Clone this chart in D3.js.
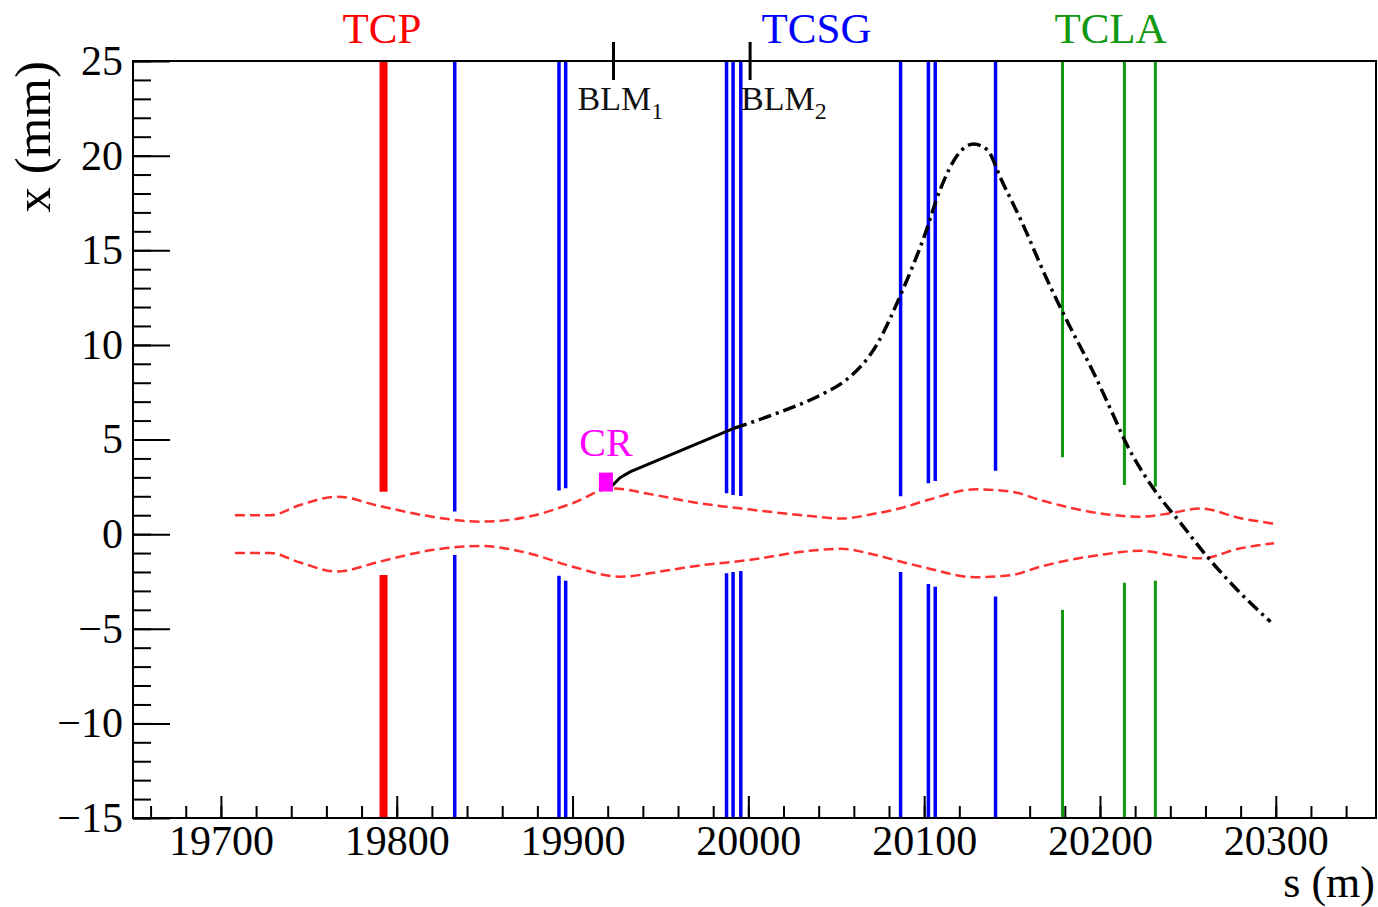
<!DOCTYPE html>
<html lang="en">
<head>
<meta charset="utf-8">
<title>Crystal channeled halo trajectory</title>
<script src="https://d3js.org/d3.v7.min.js"></script>
<style>
  body { margin: 0; background: #fff; }
  svg { display: block; font-family: "Liberation Serif", "Times New Roman", serif; }
  .tick text { fill: #000; }
</style>
</head>
<body>
<script>
const W = 1378, H = 907;
const margin = {left: 133, right: 2, top: 61, bottom: 89};

// collimators: position s (m) and jaw half gaps (mm)
const tcpS = [19792.5];
const tcpUp = [2.24];
const tcpDown = [-2.16];
const tcsgS = [19833, 19892.3, 19896.1, 19987.6, 19991.3, 19995.7, 20086.6, 20102.4, 20106.3, 20140.6];
const tcsgUp = [1.19, 2.3, 2.42, 2.16, 2.07, 2.01, 2.0, 2.69, 2.81, 3.35];
const tcsgDown = [-1.1, -2.2, -2.46, -2.07, -2.0, -1.95, -2.0, -2.64, -2.78, -3.3];
const tclaS = [20178.7, 20213.9, 20231.5];
const tclaUp = [4.06, 2.6, 2.5];
const tclaDown = [-4.0, -2.57, -2.46];

const groupNames = ["TCP", "TCSG", "TCLA"];
const groupLabelS = [19791.6, 20038.8, 20206];

const blmNames = ["1", "2"];
const blmS = [19923.3, 20001];

// beam envelope (red dashed)
const envS = [19708, 19728, 19745, 19766, 19790, 19820, 19848, 19875, 19900, 19922, 19945, 19967, 20000, 20035, 20053, 20070, 20087, 20102, 20129, 20150, 20166, 20200, 20223, 20240, 20257, 20280, 20299];
const envUp = [1.0, 1.0, 1.54, 1.98, 1.49, 0.92, 0.66, 0.92, 1.63, 2.42, 2.1, 1.71, 1.31, 0.96, 0.82, 1.05, 1.38, 1.8, 2.37, 2.24, 1.8, 1.1, 0.92, 1.1, 1.36, 0.84, 0.55];
const envLowS = [19708, 19728, 19745, 19766, 19790, 19820, 19848, 19875, 19900, 19927, 19950, 19967, 20000, 20035, 20053, 20070, 20087, 20102, 20129, 20150, 20166, 20200, 20223, 20240, 20257, 20280, 20299];
const envLow = [-1.0, -1.0, -1.5, -1.98, -1.46, -0.84, -0.63, -1.01, -1.72, -2.25, -1.98, -1.72, -1.37, -0.88, -0.77, -1.05, -1.46, -1.8, -2.28, -2.16, -1.72, -1.1, -0.88, -1.1, -1.28, -0.75, -0.48];

// channeled trajectory: solid up to the TCSG, then dash-dot
const trajS = [19922, 19927, 19933, 19992, 20016, 20043, 20055, 20073, 20087, 20100, 20109, 20119, 20128, 20136, 20143.5, 20155, 20170, 20181, 20196.5, 20208, 20214, 20231, 20246, 20261, 20280, 20297];
const trajX = [2.5, 2.98, 3.3, 5.6, 6.38, 7.44, 8.1, 10.0, 12.73, 15.72, 18.18, 20.03, 20.61, 20.3, 18.8, 16.6, 13.43, 11.31, 8.5, 6.2, 4.97, 2.33, 0.57, -1.19, -3.13, -4.63];
const solidEnd = 3;

// crystal box
const crS = [19915, 19923];
const crX = [2.25, 3.25];

const svg = d3.select("body").append("svg").attr("width", W).attr("height", H);

const x = d3.scaleLinear().domain([19650, 20357]).range([margin.left, W - margin.right]);
const y = d3.scaleLinear().domain([-15, 25]).range([H - margin.bottom, margin.top]);

// axes: minor then major ticks, pointing inside
svg.append("g").attr("transform", `translate(0,${y(-15)})`)
  .call(d3.axisBottom(x).tickValues(d3.range(19660, 20357, 20)).tickSize(-12).tickFormat(""))
  .call(g => g.select(".domain").remove())
  .call(g => g.selectAll("line").attr("stroke", "#000").attr("stroke-width", 2));
svg.append("g").attr("transform", `translate(0,${y(-15)})`)
  .call(d3.axisBottom(x).tickValues(d3.range(19700, 20301, 100)).tickSize(-22).tickPadding(7).tickFormat(d3.format("d")))
  .call(g => g.select(".domain").remove())
  .call(g => g.selectAll("line").attr("stroke", "#000").attr("stroke-width", 2))
  .call(g => g.selectAll("text").attr("font-size", 42).attr("font-family", "Liberation Serif"));

svg.append("g").attr("transform", `translate(${x(19650)},0)`)
  .call(d3.axisLeft(y).tickValues(d3.range(-15, 26, 1)).tickSize(-18).tickFormat(""))
  .call(g => g.select(".domain").remove())
  .call(g => g.selectAll("line").attr("stroke", "#000").attr("stroke-width", 2));
svg.append("g").attr("transform", `translate(${x(19650)},0)`)
  .call(d3.axisLeft(y).tickValues(d3.range(-15, 26, 5)).tickSize(-37).tickPadding(10))
  .call(g => g.select(".domain").remove())
  .call(g => g.selectAll("line").attr("stroke", "#000").attr("stroke-width", 2))
  .call(g => g.selectAll("text").attr("font-size", 42).attr("font-family", "Liberation Serif"));

// beam envelope
const envLine = d3.line().x(d => x(d[0])).y(d => y(d[1])).curve(d3.curveMonotoneX);
[d3.zip(envS, envUp), d3.zip(envLowS, envLow)].forEach(pts => {
  svg.append("path").attr("d", envLine(pts))
    .attr("fill", "none").attr("stroke", "#ff3030").attr("stroke-width", 2.5)
    .attr("stroke-dasharray", "10,5");
});

// collimator jaws
function drawJaws(sArr, up, down, color, width) {
  sArr.forEach((s, i) => {
    svg.append("line").attr("x1", x(s)).attr("x2", x(s)).attr("y1", y(25)).attr("y2", y(up[i]))
      .attr("stroke", color).attr("stroke-width", width);
    svg.append("line").attr("x1", x(s)).attr("x2", x(s)).attr("y1", y(down[i])).attr("y2", y(-15))
      .attr("stroke", color).attr("stroke-width", width);
  });
}
drawJaws(tcpS, tcpUp, tcpDown, "#ff0000", 8);
drawJaws(tcsgS, tcsgUp, tcsgDown, "#0000ff", 3.5);
drawJaws(tclaS, tclaUp, tclaDown, "#109910", 3);

// trajectory
const traj = d3.zip(trajS, trajX);
svg.append("path")
  .attr("d", d3.line().x(d => x(d[0])).y(d => y(d[1])).curve(d3.curveLinear)(traj.slice(0, solidEnd + 1)))
  .attr("fill", "none").attr("stroke", "#000").attr("stroke-width", 3).attr("stroke-linejoin", "round");
svg.append("path")
  .attr("d", d3.line().x(d => x(d[0])).y(d => y(d[1])).curve(d3.curveMonotoneX)(traj.slice(solidEnd)))
  .attr("fill", "none").attr("stroke", "#000").attr("stroke-width", 3.5)
  .attr("stroke-dasharray", "13,5,3,5");

// crystal
svg.append("rect").attr("x", x(crS[0])).attr("y", y(crX[1]))
  .attr("width", x(crS[1]) - x(crS[0])).attr("height", y(crX[0]) - y(crX[1]))
  .attr("fill", "#ff00ff");
svg.append("text").attr("x", x((crS[0] + crS[1]) / 2)).attr("y", y(crX[1]) - 17)
  .attr("text-anchor", "middle").attr("font-size", 40).attr("fill", "#ff00ff").text("CR");

// frame
svg.append("rect").attr("x", x(19650)).attr("y", y(25))
  .attr("width", x(20357) - x(19650)).attr("height", y(-15) - y(25))
  .attr("fill", "none").attr("stroke", "#000").attr("stroke-width", 2);

// BLM markers
const blmDx = [-36, -9];
blmS.forEach((s, i) => {
  svg.append("line").attr("x1", x(s)).attr("x2", x(s)).attr("y1", y(25) - 19).attr("y2", y(25) + 19)
    .attr("stroke", "#000").attr("stroke-width", 3);
  const t = svg.append("text").attr("x", x(s) + blmDx[i]).attr("y", y(25) + 49)
    .attr("font-size", 34).attr("fill", "#111");
  t.append("tspan").text("BLM");
  t.append("tspan").attr("font-size", 24).attr("dy", 9).text(blmNames[i]);
});

// family labels
const groupColors = ["#ff0000", "#0000ff", "#109910"];
groupNames.forEach((n, i) => {
  svg.append("text").attr("x", x(groupLabelS[i])).attr("y", 43)
    .attr("text-anchor", "middle").attr("font-size", 43).attr("fill", groupColors[i]).text(n);
});

// axis titles
svg.append("text").attr("transform", `translate(50,${y(25)}) rotate(-90)`)
  .attr("text-anchor", "end").attr("font-size", 51).text("x (mm)");
svg.append("text").attr("x", W - 3).attr("y", 897)
  .attr("text-anchor", "end").attr("font-size", 44).text("s (m)");
</script>
</body>
</html>
